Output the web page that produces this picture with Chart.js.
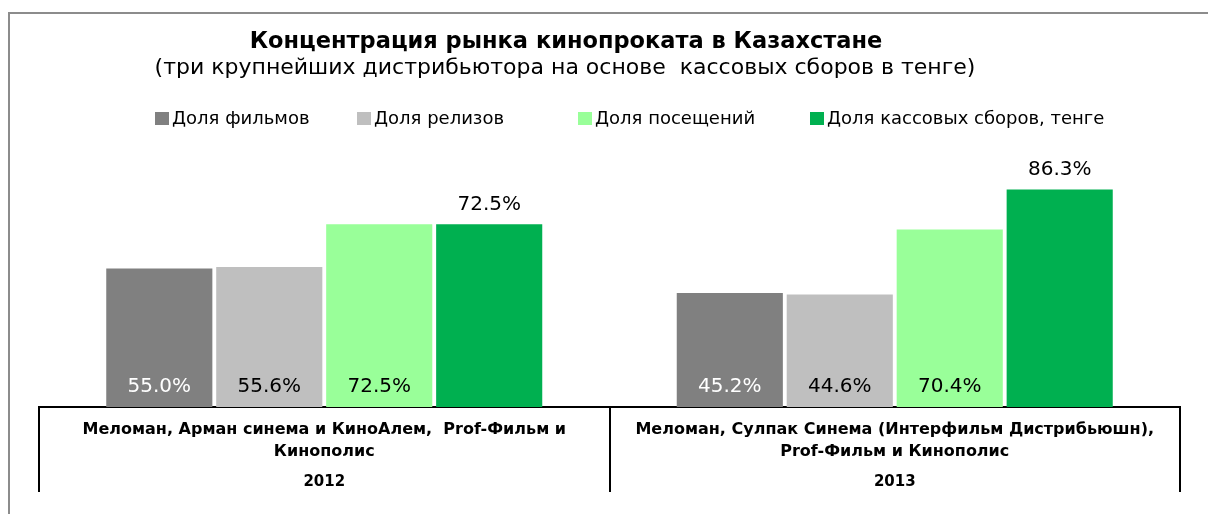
<!DOCTYPE html>
<html><head><meta charset="utf-8">
<script src="https://cdn.jsdelivr.net/npm/chart.js@4.4.0/dist/chart.umd.min.js"></script>
<style>html,body{margin:0;padding:0;background:#fff;overflow:hidden}canvas{display:block}</style>
</head><body>
<canvas id="c" width="1208" height="514"></canvas>
<script>
// ---- data ----
const categories = [
  ["Меломан, Арман синема и КиноАлем,  Prof-Фильм и", "Кинополис"],
  ["Меломан, Сулпак Синема (Интерфильм Дистрибьюшн),", "Prof-Фильм и Кинополис"]
];
const years = ["2012", "2013"];
const seriesNames = ["Доля фильмов", "Доля релизов", "Доля посещений", "Доля кассовых сборов, тенге"];
const filmsShare = [55.0, 45.2];
const releasesShare = [55.6, 44.6];
const visitsShare = [72.5, 70.4];
const boxOfficeShare = [72.5, 86.3];
const titleText = "Концентрация рынка кинопроката в Казахстане";
const subtitleText = "(три крупнейших дистрибьютора на основе  кассовых сборов в тенге)";

// ---- styles ----
const seriesColors = ["#808080", "#BFBFBF", "#99FF99", "#00B050"];
const labelColors = ["#ffffff", "#000000", "#000000", "#000000"];
const labelPlacement = ["inside", "inside", "inside", "above"];
const FONT = "'DejaVu Sans', Verdana, sans-serif";
const legendX = [155, 357, 578, 810];

const seriesValues = [filmsShare, releasesShare, visitsShare, boxOfficeShare];

const decorPlugin = {
  id: 'decor',
  beforeDraw(chart) {
    const ctx = chart.ctx;
    ctx.save();
    ctx.fillStyle = '#ffffff';
    ctx.fillRect(0, 0, chart.width, chart.height);
    // outer frame
    ctx.fillStyle = '#8c8c8c';
    ctx.fillRect(8, 12, chart.width - 8, 2);
    ctx.fillRect(8, 12, 2, chart.height - 12);
    // title
    ctx.fillStyle = '#000';
    ctx.textAlign = 'center';
    ctx.textBaseline = 'middle';
    ctx.font = "bold 22.5px " + FONT;
    ctx.fillText(titleText, 566, 42);
    ctx.font = "22px " + FONT;
    ctx.fillText(subtitleText, 565, 68);
    // legend
    ctx.textAlign = 'left';
    ctx.font = "18px " + FONT;
    chart.data.datasets.forEach((ds, i) => {
      const x = legendX[i];
      ctx.fillStyle = ds.backgroundColor;
      ctx.fillRect(x, 112, 14, 13);
      ctx.fillStyle = '#000';
      ctx.fillText(ds.label, x + 17, 119);
    });
    ctx.restore();
  },
  afterDraw(chart) {
    const ctx = chart.ctx;
    const xs = chart.scales.x;
    ctx.save();
    // year labels
    ctx.fillStyle = '#000';
    ctx.textAlign = 'center';
    ctx.textBaseline = 'middle';
    ctx.font = "bold 15px " + FONT;
    years.forEach((y, i) => {
      ctx.fillText(y, xs.getPixelForValue(i), xs.top + 75);
    });
    // data labels
    ctx.font = "20px " + FONT;
    chart.data.datasets.forEach((ds, di) => {
      const meta = chart.getDatasetMeta(di);
      meta.data.forEach((bar, i) => {
        const v = ds.data[i];
        const txt = v.toFixed(1) + '%';
        ctx.fillStyle = labelColors[di];
        const y = labelPlacement[di] === 'inside' ? bar.base - 20 : bar.y - 20;
        ctx.fillText(txt, bar.x, y);
      });
    });
    ctx.restore();
  }
};

new Chart(document.getElementById('c'), {
  type: 'bar',
  data: {
    labels: categories,
    datasets: seriesNames.map((n, i) => ({
      label: n,
      data: seriesValues[i],
      backgroundColor: seriesColors[i],
      borderWidth: 0,
      categoryPercentage: 0.771,
      barPercentage: 0.965
    }))
  },
  options: {
    responsive: false,
    devicePixelRatio: 1,
    animation: false,
    layout: { padding: { left: 39, right: 28, top: 155, bottom: 22 } },
    plugins: {
      legend: { display: false },
      title: { display: false },
      tooltip: { enabled: false }
    },
    scales: {
      y: { display: false, min: 0, max: 100 },
      x: {
        offset: true,
        afterFit: (scale) => { scale.height = 85; },
        grid: {
          display: true,
          offset: true,
          drawOnChartArea: false,
          drawTicks: true,
          tickLength: 85,
          color: '#000',
          lineWidth: 2
        },
        border: { display: true, color: '#000', width: 2 },
        ticks: {
          padding: -73,
          color: '#000',
          maxRotation: 0,
          autoSkip: false,
          font: { family: FONT, size: 16, weight: 'bold', lineHeight: '22px' }
        }
      }
    }
  },
  plugins: [decorPlugin]
});
</script>
</body></html>
